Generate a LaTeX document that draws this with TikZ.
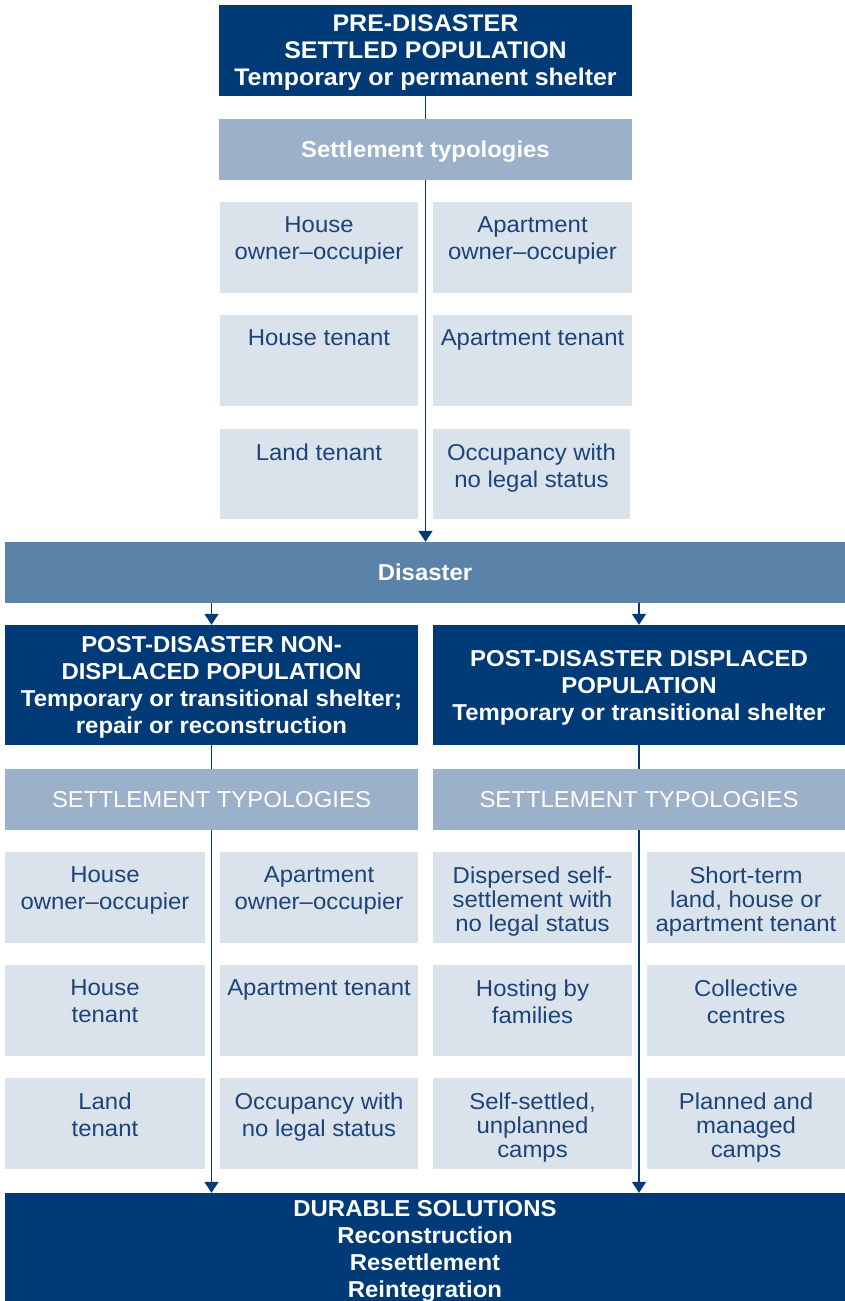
\documentclass[tikz,border=0pt]{standalone}
\usepackage{fontspec}
\setmainfont{Liberation Sans}[FakeStretch=1.04]
\usetikzlibrary{arrows.meta}
\definecolor{darkblue}{RGB}{0,59,120}
\definecolor{midblue}{RGB}{91,130,168}
\definecolor{lightblue}{RGB}{155,177,202}
\definecolor{cellblue}{RGB}{218,226,235}
\definecolor{textblue}{RGB}{28,68,122}
\newcommand{\celltext}[2][27pt]{\parbox[c][61pt][t]{196pt}{\centering\fontsize{23pt}{#1}\selectfont #2}}

\begin{document}
\begin{tikzpicture}[x=1pt,y=-1pt,>={Triangle[width=14pt,length=11pt]},
	darkbox/.style={fill=darkblue,text=white,font=\bfseries\fontsize{23}{27}\selectfont,align=center,inner sep=0pt,
		text depth=-5pt},
	headbox/.style={fill=lightblue,text=white,font=\fontsize{23}{27}\selectfont,inner sep=0pt,minimum height=61pt,
		text height=16.5pt,text depth=0pt},
	cellbox/.style={fill=cellblue,text=textblue,inner sep=0pt,minimum height=91pt},
	flow/.style={draw=darkblue,line width=1.8pt}]
	
	\useasboundingbox (0,0) rectangle (845,1301);
	
	% Draw the pre-disaster part
	\node[darkbox,font=\bfseries\fontsize{24}{27}\selectfont,minimum width=413pt,minimum height=91pt] (pre) at (425.5,50.5) {PRE-DISASTER\\SETTLED POPULATION\\Temporary or permanent shelter};
	\node[headbox,minimum width=413pt,font=\bfseries\fontsize{23}{27}\selectfont] (pretyp) at (425.5,149.5) {Settlement typologies};
	
	\node[cellbox,minimum width=198pt] (houseown) at (319,247.5) {\celltext{House\\owner\textendash occupier}};
	\node[cellbox,minimum width=199pt] (aptown) at (532.5,247.5) {\celltext{Apartment\\owner\textendash occupier}};
	\node[cellbox,minimum width=198pt] (houseten) at (319,360.5) {\celltext{House tenant}};
	\node[cellbox,minimum width=199pt] (aptten) at (532.5,360.5) {\celltext{Apartment tenant}};
	\node[cellbox,minimum width=198pt,minimum height=90pt] (landten) at (319,474) {\celltext{Land tenant}};
	\node[cellbox,minimum width=197pt,minimum height=90pt] (nolegal) at (531.5,474) {\celltext{Occupancy with\\no legal status}};
	
	% Draw the disaster band
	\node[headbox,fill=midblue,font=\bfseries\fontsize{23}{27}\selectfont,minimum width=840pt] (disaster) at (425,572.5) {Disaster};
	
	% Draw the post-disaster parts
	\node[darkbox,minimum width=413pt,minimum height=120pt] (nondisp) at (211.5,685) {POST-DISASTER NON-\\DISPLACED POPULATION\\Temporary or transitional shelter;\\repair or reconstruction};
	\node[darkbox,minimum width=412pt,minimum height=120pt] (disp) at (639,685) {POST-DISASTER DISPLACED\\POPULATION\\Temporary or transitional shelter};
	
	\node[headbox,minimum width=413pt] (nondisptyp) at (211.5,799.5) {SETTLEMENT TYPOLOGIES};
	\node[headbox,minimum width=412pt] (disptyp) at (639,799.5) {SETTLEMENT TYPOLOGIES};
	
	\node[cellbox,minimum width=200pt] (nhouseown) at (105,897) {\celltext{House\\owner\textendash occupier}};
	\node[cellbox,minimum width=198pt] (naptown) at (319,897) {\celltext{Apartment\\owner\textendash occupier}};
	\node[cellbox,minimum width=199pt] (dispersed) at (532.5,897) {\celltext[24pt]{Dispersed self-\\settlement with\\no legal status}};
	\node[cellbox,minimum width=198pt] (shortterm) at (746,897) {\celltext[24pt]{Short-term\\land, house or\\apartment tenant}};
	
	\node[cellbox,minimum width=200pt] (nhouseten) at (105,1010.5) {\celltext{House\\tenant}};
	\node[cellbox,minimum width=198pt] (napttenant) at (319,1010.5) {\celltext{Apartment tenant}};
	\node[cellbox,minimum width=199pt] (hosting) at (532.5,1010.5) {\celltext{Hosting by\\families}};
	\node[cellbox,minimum width=198pt] (collective) at (746,1010.5) {\celltext{Collective\\centres}};
	
	\node[cellbox,minimum width=200pt] (nlandten) at (105,1123.5) {\celltext{Land\\tenant}};
	\node[cellbox,minimum width=198pt] (nnolegal) at (319,1123.5) {\celltext{Occupancy with\\no legal status}};
	\node[cellbox,minimum width=199pt] (selfcamps) at (532.5,1123.5) {\celltext[24pt]{Self-settled,\\unplanned\\camps}};
	\node[cellbox,minimum width=198pt] (plancamps) at (746,1123.5) {\celltext[24pt]{Planned and\\managed\\camps}};
	
	% Draw the durable solutions band
	\node[darkbox,minimum width=840pt,minimum height=112pt] (durable) at (425,1249) {DURABLE SOLUTIONS\\Reconstruction\\Resettlement\\Reintegration};
	
	% Draw the flow lines
	\draw[flow] (pre.south) -- (pretyp.north);
	\draw[flow,->] (pretyp.south) -- (pretyp.south |- disaster.north);
	\draw[flow,->] (nondisp.north |- disaster.south) -- (nondisp.north);
	\draw[flow,->] (disp.north |- disaster.south) -- (disp.north);
	\draw[flow] (nondisp.south) -- (nondisptyp.north);
	\draw[flow] (disp.south) -- (disptyp.north);
	\draw[flow,->] (nondisptyp.south) -- (nondisptyp.south |- durable.north);
	\draw[flow,->] (disptyp.south) -- (disptyp.south |- durable.north);
	
\end{tikzpicture}
\end{document}
